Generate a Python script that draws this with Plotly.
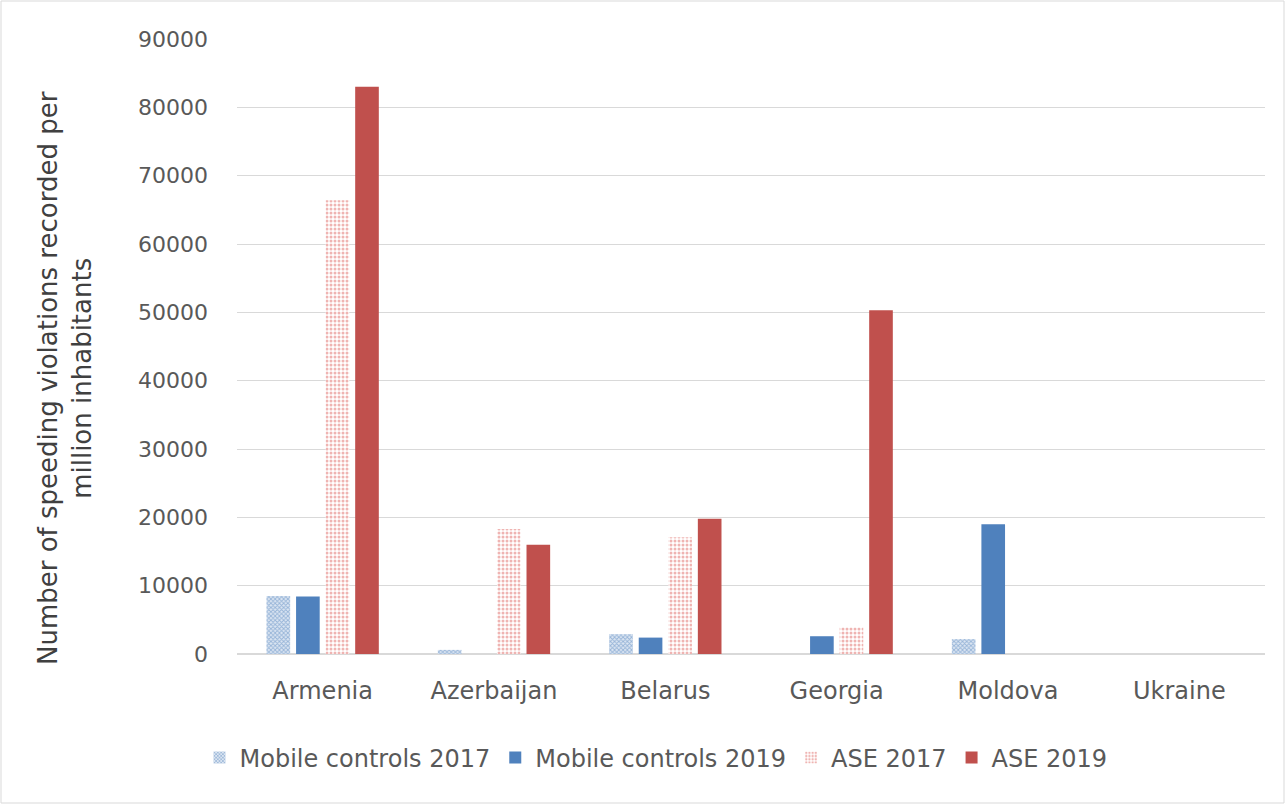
import plotly.graph_objects as go

countries = ["Armenia", "Azerbaijan", "Belarus", "Georgia", "Moldova", "Ukraine"]
mobile_2017 = [8500, 600, 2900, 0, 2200, 0]
mobile_2019 = [8400, 0, 2400, 2600, 19000, 0]
ase_2017 = [66400, 18300, 17100, 3900, 0, 0]
ase_2019 = [83000, 16000, 19800, 50300, 0, 0]
y_ticks = [0, 10000, 20000, 30000, 40000, 50000, 60000, 70000, 80000, 90000]
y_tick_labels = [str(v) for v in y_ticks]
y_title = "Number of speeding violations recorded per<br>million inhabitants"

BLUE = "#4f81bd"
RED = "#c0504d"
FONT = "DejaVu Sans"

W, H = 1286, 805
ML, MR, MT, MB = 237, 21, 39, 151
pw = W - ML - MR
ph = H - MT - MB

fig = go.Figure()
fig.add_trace(go.Bar(
    name="Mobile controls 2017", x=countries, y=mobile_2017,
    marker=dict(color="#c9d8ec", line=dict(width=0),
                pattern=dict(shape="x", fgcolor=BLUE, bgcolor="#dce6f2",
                             size=3, solidity=0.5)),
))
fig.add_trace(go.Bar(
    name="Mobile controls 2019", x=countries, y=mobile_2019,
    marker=dict(color=BLUE, line=dict(width=0)),
))
fig.add_trace(go.Bar(
    name="ASE 2017", x=countries, y=ase_2017,
    marker=dict(color="white", line=dict(width=0),
                pattern=dict(shape=".", fgcolor="#e06a66", bgcolor="white",
                             size=4, solidity=0.45)),
))
fig.add_trace(go.Bar(
    name="ASE 2019", x=countries, y=ase_2019,
    marker=dict(color=RED, line=dict(width=0)),
))

# light frame around the whole chart area
fig.add_shape(
    type="rect", xref="paper", yref="paper",
    x0=(1 - ML) / pw, x1=1 + (MR - 2) / pw,
    y0=-(MB - 2) / ph, y1=1 + (MT - 1) / ph,
    line=dict(color="#d9d9d9", width=1), fillcolor="rgba(0,0,0,0)", layer="below",
)

# vertical axis title, placed as a rotated annotation
fig.add_annotation(
    text=y_title, textangle=-90, showarrow=False,
    xref="paper", yref="paper",
    x=(65 - ML) / pw, y=1 - (378 - MT) / ph,
    xanchor="center", yanchor="middle", align="center",
    font=dict(size=26, color="#404040", family=FONT),
)

fig.update_layout(
    width=W, height=H,
    margin=dict(l=ML, r=MR, t=MT, b=MB),
    paper_bgcolor="white", plot_bgcolor="white",
    barmode="group", bargap=0.31, bargroupgap=0.2,
    font=dict(family=FONT, color="#595959", size=20),
    legend=dict(orientation="h", x=(656 - ML) / pw, xanchor="center",
                y=-(758 - MT - ph) / ph, yanchor="middle",
                font=dict(size=24, color="#595959"), itemwidth=30,
                traceorder="normal"),
    xaxis=dict(showgrid=False, showline=False, ticks="", tickfont=dict(size=24),
               ticklabelstandoff=20),
    yaxis=dict(range=[0, 90000], tickvals=y_ticks, ticktext=y_tick_labels,
               showgrid=True, gridcolor="#d9d9d9", gridwidth=1, zeroline=True,
               zerolinecolor="#d9d9d9", zerolinewidth=1.5,
               showline=False, ticks="", tickfont=dict(size=22),
               ticklabelstandoff=28),
)

fig.write_html("out.html")
